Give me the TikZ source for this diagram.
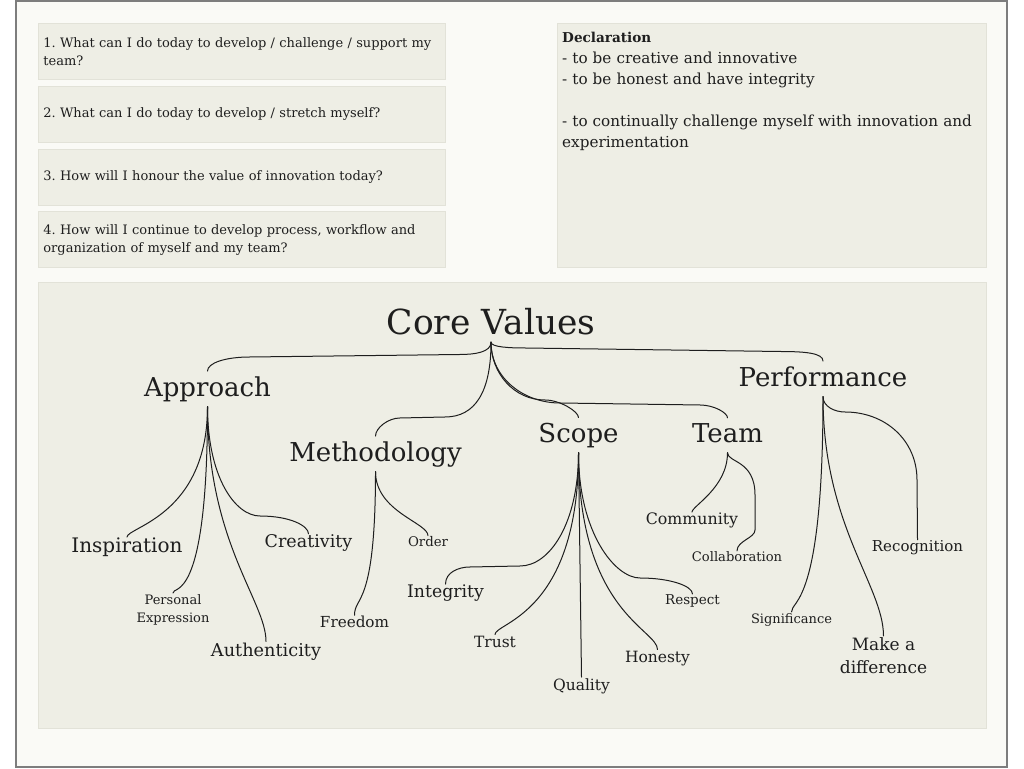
\documentclass[tikz,border=0pt]{standalone}
\usepackage{fontspec}
\setmainfont{DejaVu Serif}
\usepackage{tikz}
\usetikzlibrary{positioning}

\definecolor{pagebg}{RGB}{250,250,246}
\definecolor{panel}{RGB}{238,238,229}
\definecolor{paneledge}{RGB}{226,226,216}
\definecolor{framegray}{RGB}{125,125,125}
\definecolor{ink}{RGB}{30,30,30}

\begin{document}
\begin{tikzpicture}[x=1pt,y=1pt,
  qbox/.style={rectangle,fill=panel,draw=paneledge,line width=0.8pt,minimum width=407pt,minimum height=56pt,text width=397pt,inner xsep=5pt,align=left,text=ink,font=\fontsize{13}{18}\selectfont},
  rootlbl/.style={inner sep=0pt,text depth=7pt,text=ink,font=\fontsize{34.5}{40}\selectfont},
  branchlbl/.style={inner xsep=0pt,inner ysep=6pt,text depth=3.5pt,text=ink,font=\fontsize{26}{30}\selectfont},
  leaflbl/.style={inner sep=1pt,text=ink},
  twig/.style={out=-90,in=90},
  link/.style={draw=ink,line width=1pt,line cap=round}]
\useasboundingbox (0,0) rectangle (1024,768);
\filldraw[fill=pagebg,draw=framegray,line width=2pt] (16,767) rectangle (1007,1);

% questions and declaration
\node[qbox,anchor=north west] (q1) at (38,745) {1.\ What can I do today to develop / challenge / support my team?};
\node[qbox,below=6pt of q1] (q2) {2.\ What can I do today to develop / stretch myself?};
\node[qbox,below=6pt of q2] (q3) {3.\ How will I honour the value of innovation today?};
\node[qbox,below=6pt of q3] (q4) {4.\ How will I continue to develop process, workflow and organization of myself and my team?};

\filldraw[fill=panel,draw=paneledge,line width=0.8pt] (557,745) rectangle (986,501);
\node[anchor=north west,inner xsep=5pt,inner ysep=8.7pt,text width=419pt,align=left,text=ink,font=\fontsize{15.2}{21}\selectfont] (decl) at (557,745) {{\bfseries\fontsize{13.6}{21}\selectfont Declaration}\\- to be creative and innovative\\- to be honest and have integrity\\[21pt]- to continually challenge myself with innovation and experimentation};

% core values
\filldraw[fill=panel,draw=paneledge,line width=0.8pt] (38,486) rectangle (986,40);
\node[rootlbl,anchor=base] (cv) at (491,433) {Core Values};

\node[branchlbl,anchor=base] (app) at (207.5,371) {Approach};
\node[branchlbl,anchor=base] (meth) at (375.5,306) {Methodology};
\node[branchlbl,anchor=base] (scope) at (578.5,325) {Scope};
\node[branchlbl,anchor=base] (team) at (727.5,325) {Team};
\node[branchlbl,anchor=base] (perf) at (823,381) {Performance};

\node[leaflbl,anchor=base,font=\fontsize{20}{24}\selectfont] (insp) at (127,215) {Inspiration};
\node[leaflbl,anchor=base,font=\fontsize{17.5}{21}\selectfont] (creat) at (308.5,220) {Creativity};
\node[leaflbl,anchor=north,align=center,font=\fontsize{13}{18}\selectfont] (pers) at (173,175) {Personal\\Expression};
\node[leaflbl,anchor=base,font=\fontsize{17.7}{21}\selectfont] (auth) at (266,112) {Authenticity};
\node[leaflbl,anchor=base,font=\fontsize{15.2}{18}\selectfont] (freed) at (354.5,140) {Freedom};
\node[leaflbl,anchor=base,font=\fontsize{13.3}{16}\selectfont] (order) at (428,221) {Order};
\node[leaflbl,anchor=base,font=\fontsize{17.3}{21}\selectfont] (integ) at (445.5,170) {Integrity};
\node[leaflbl,anchor=base,font=\fontsize{15.5}{18}\selectfont] (trust) at (495,121) {Trust};
\node[leaflbl,anchor=base,font=\fontsize{15.5}{18}\selectfont] (qual) at (581.5,78) {Quality};
\node[leaflbl,anchor=base,font=\fontsize{15.5}{18}\selectfont] (hon) at (657.5,106) {Honesty};
\node[leaflbl,anchor=base,font=\fontsize{13.5}{16}\selectfont] (resp) at (692.5,163) {Respect};
\node[leaflbl,anchor=base,font=\fontsize{15.8}{19}\selectfont] (comm) at (692,243) {Community};
\node[leaflbl,anchor=base,font=\fontsize{13.1}{16}\selectfont] (collab) at (737,206) {Collaboration};
\node[leaflbl,anchor=base,font=\fontsize{13}{16}\selectfont] (sig) at (791.5,145) {Significance};
\node[leaflbl,anchor=north,align=center,font=\fontsize{17}{23.5}\selectfont] (make) at (883.5,132) {Make a\\difference};
\node[leaflbl,anchor=base,font=\fontsize{15}{18}\selectfont] (recog) at (917.5,216) {Recognition};

\draw[link] (cv.south) to[out=-90,in=0,out distance=10pt,in distance=15pt] (460,413.5) -- (250,411) to[out=180,in=90,out distance=25pt,in distance=8pt] (app.north);
\draw[link] (cv.south) to[out=-90,in=0,out distance=50pt,in distance=30pt] (445,351) -- (400,350) to[out=180,in=90,out distance=12pt,in distance=8pt] (meth.north);
\draw[link] (cv.south) to[out=-90,in=180,out distance=31pt,in distance=31pt] (545,368) to[out=0,in=90,out distance=15pt,in distance=6pt] (scope.north);
\draw[link] (cv.south) to[out=-90,in=180,out distance=36pt,in distance=36pt] (560,365) -- (700,363) to[out=0,in=90,out distance=14pt,in distance=5pt] (team.north);
\draw[link] (cv.south) to[out=-90,in=180,out distance=5pt,in distance=15pt] (525,420) -- (780,416.5) to[out=0,in=90,out distance=25pt,in distance=8pt] (perf.north);

\draw[link] (app.south) to[twig,out distance=109pt,in distance=10pt] (insp.north);
\draw[link] (app.south) to[twig,out distance=200pt,in distance=8pt] (pers.north);
\draw[link] (app.south) to[twig,out distance=136pt,in distance=40pt] (auth.north);
\draw[link] (app.south) to[out=-90,in=180,out distance=70pt,in distance=25pt] (260,252) to[out=0,in=90,out distance=30pt,in distance=8pt] (creat.north);

\draw[link] (meth.south) to[twig,out distance=137pt,in distance=20pt] (freed.north);
\draw[link] (meth.south) to[twig,out distance=40pt,in distance=13pt] (order.north);

\draw[link] (scope.south) to[out=-90,in=0,out distance=70pt,in distance=30pt] (520,202) -- (470,201) to[out=180,in=90] (integ.north);
\draw[link] (scope.south) to[twig,out distance=162pt,in distance=12pt] (trust.north);
\draw[link] (scope.south) -- (qual.north);
\draw[link] (scope.south) to[twig,out distance=159pt,in distance=20pt] (hon.north);
\draw[link] (scope.south) to[out=-90,in=180,out distance=80pt,in distance=25pt] (640,190) to[out=0,in=90,out distance=30pt,in distance=8pt] (resp.north);

\draw[link] (team.south) to[twig,out distance=35pt,in distance=6pt] (comm.north);
\draw[link] (team.south) to[twig,out distance=10pt,in distance=35pt] (755,273) -- (755,238) to[twig,out distance=8pt,in distance=10pt] (collab.north);

\draw[link] (perf.south) to[out=-90,in=180,out distance=10pt,in distance=10pt] (845,356) to[out=0,in=90,out distance=40pt,in distance=40pt] (917,288) -- (recog.north);
\draw[link] (perf.south) to[twig,out distance=209pt,in distance=12pt] (sig.north);
\draw[link] (perf.south) to[twig,out distance=129pt,in distance=50pt] (make.north);

\end{tikzpicture}
\end{document}
